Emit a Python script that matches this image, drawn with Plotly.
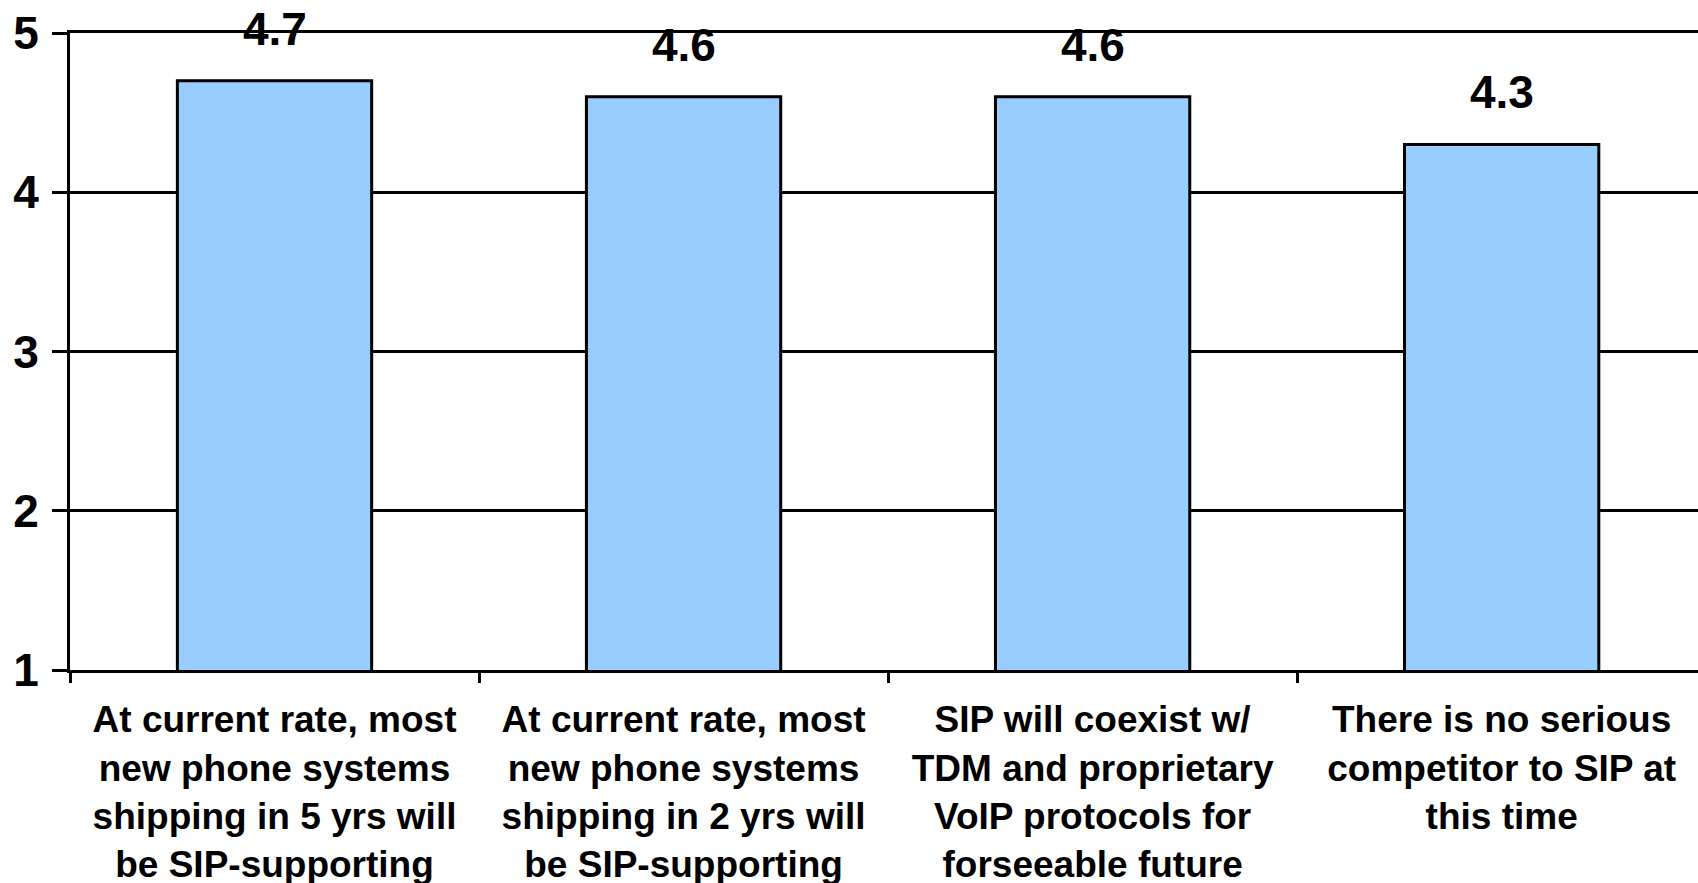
import plotly.graph_objects as go

categories = [
    "At current rate, most<br>new phone systems<br>shipping in 5 yrs will<br>be SIP-supporting",
    "At current rate, most<br>new phone systems<br>shipping in 2 yrs will<br>be SIP-supporting",
    "SIP will coexist w/<br>TDM and proprietary<br>VoIP protocols for<br>forseeable future",
    "There is no serious<br>competitor to SIP at<br>this time",
]
scores = [4.7, 4.6, 4.6, 4.3]
y_ticks = [1, 2, 3, 4, 5]

FONT = "Liberation Sans, Arial, sans-serif"

fig = go.Figure()
fig.add_trace(go.Bar(
    x=categories, y=scores,
    width=0.475,
    marker=dict(color="#99CCFF", line=dict(color="black", width=3)),
    hoverinfo="skip",
))

# value labels float a bit above each bar
for c, v in zip(categories, scores):
    fig.add_annotation(
        x=c, y=v, text=f"{v:.1f}", showarrow=False,
        yanchor="bottom", yshift=24,
        font=dict(family=FONT, size=46, color="black", weight="bold"),
    )

fig.update_layout(
    width=1698, height=883,
    margin=dict(l=70, r=0, t=33, b=213, autoexpand=False),
    paper_bgcolor="white", plot_bgcolor="white",
    showlegend=False,
    font=dict(family=FONT, color="black"),
)
fig.update_yaxes(
    range=[1, 5], tickvals=y_ticks, automargin=False,
    showgrid=True, gridcolor="black", gridwidth=3,
    showline=True, linecolor="black", linewidth=3,
    ticks="outside", ticklen=15, tickwidth=3, tickcolor="black",
    ticklabelstandoff=4,
    tickfont=dict(family=FONT, size=46, color="black", weight="bold"),
    zeroline=False,
)
fig.update_xaxes(
    range=[-0.5, 3.48], automargin=False,
    showgrid=False,
    showline=True, mirror=True, linecolor="black", linewidth=3,
    ticks="outside", tickson="boundaries", ticklen=10, tickwidth=3, tickcolor="black",
    ticklabelstandoff=15,
    tickfont=dict(family=FONT, size=37, color="black", weight="bold"),
)

# page body has a default 8px margin; drop it so the figure fills the window
fig.write_html("out.html", config={"displayModeBar": False},
               post_script="document.body.style.margin='0';")
